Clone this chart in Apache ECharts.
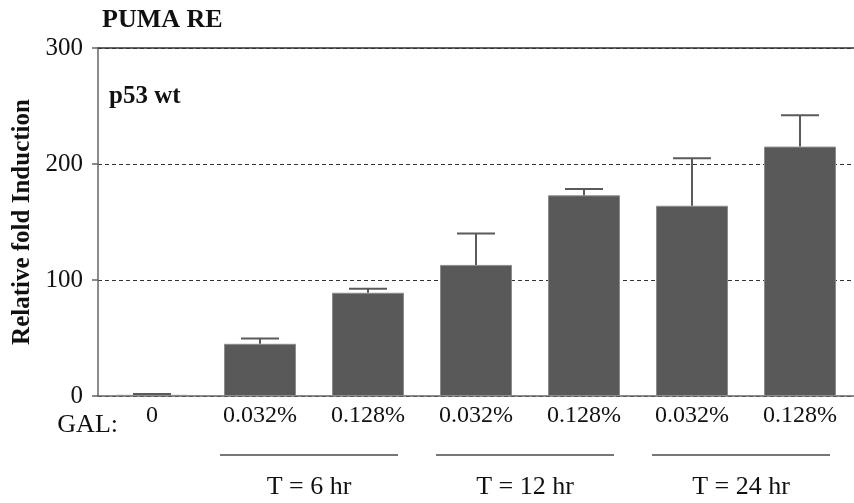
<!DOCTYPE html>
<html>
<head>
<meta charset="utf-8">
<script src="https://cdn.jsdelivr.net/npm/echarts@6/dist/echarts.min.js"></script>
<style>
html,body{margin:0;padding:0;background:#fff;}
#chart{width:854px;height:503px;}
</style>
</head>
<body>
<div id="chart"></div>
<script>
const categories = ['0', '0.032%', '0.128%', '0.032%', '0.128%', '0.032%', '0.128%'];
const values = [1, 45, 89, 113, 173, 164, 215];
const errors = [0.8, 4.5, 3.5, 27, 5.5, 41, 27];
const yTicks = [0, 100, 200, 300];
const groupLabels = ['T = 6 hr', 'T = 12 hr', 'T = 24 hr'];
const groupStart = [1, 3, 5];
const groupEnd = [2, 4, 6];

const FONT = '"Liberation Serif", "DejaVu Serif", serif';
const chart = echarts.init(document.getElementById('chart'));

const option = {
  animation: false,
  backgroundColor: '#fff',
  grid: { left: 98, top: 48, height: 348, width: 759, containLabel: false },
  title: {
    text: 'PUMA RE', left: 97, top: 2,
    textStyle: { fontFamily: FONT, fontWeight: 'bold', fontSize: 26, color: '#111' }
  },
  xAxis: [{
    type: 'category', data: categories, position: 'bottom',
    axisLine: { lineStyle: { color: '#666', width: 1.5 } },
    axisTick: { show: false },
    axisLabel: { fontFamily: FONT, fontSize: 24, color: '#111', margin: 8 }
  }, {
    type: 'category', data: categories, position: 'top',
    axisLine: { show: true, lineStyle: { color: '#333', width: 1.5 } },
    axisTick: { show: false }, axisLabel: { show: false }
  }],
  yAxis: {
    type: 'value', min: yTicks[0], max: yTicks[yTicks.length - 1], interval: 100,
    name: 'Relative fold Induction', nameLocation: 'middle', nameRotate: 90, nameGap: 58,
    nameTextStyle: { fontFamily: FONT, fontWeight: 'bold', fontSize: 25, color: '#111' },
    axisLine: { show: true, lineStyle: { color: '#666', width: 1.5 } },
    axisTick: { show: true, inside: false, length: 6, lineStyle: { color: '#666', width: 1.5 } },
    axisLabel: { fontFamily: FONT, fontSize: 25, color: '#111', margin: 15 },
    splitLine: { show: true, lineStyle: { type: [4, 3], color: '#333', width: 1 } }
  },
  series: [{
    type: 'bar', data: values, barWidth: 72,
    itemStyle: { color: '#595959', borderColor: '#8c8c8c', borderWidth: 1 },
    z: 2
  }, {
    type: 'custom', z: 3,
    data: values.map((v, i) => [i, v, errors[i]]),
    renderItem: function (params, api) {
      const i = api.value(0), v = api.value(1), e = api.value(2);
      const p0 = api.coord([i, v]);
      const p1 = api.coord([i, v + e]);
      const hw = 19;
      const style = { stroke: '#5a5a5a', lineWidth: 2 };
      return {
        type: 'group',
        children: [
          { type: 'line', shape: { x1: p0[0], y1: p0[1], x2: p1[0], y2: p1[1] }, style },
          { type: 'line', shape: { x1: p1[0] - hw, y1: p1[1], x2: p1[0] + hw, y2: p1[1] }, style }
        ]
      };
    }
  }]
};
chart.setOption(option);

const graphics = [];
const y0 = chart.convertToPixel({ yAxisIndex: 0 }, 0);
const y300 = chart.convertToPixel({ yAxisIndex: 0 }, 300);
const xFirst = chart.convertToPixel({ xAxisIndex: 0 }, 0);
graphics.push({
  type: 'text', x: 109, y: y300 + 49,
  style: { text: 'p53 wt', fontFamily: FONT, fontWeight: 'bold', fontSize: 25, fill: '#111', verticalAlign: 'middle' }
});
graphics.push({
  type: 'text', x: xFirst - 34, y: y0 + 29,
  style: { text: 'GAL:', fontFamily: FONT, fontSize: 26, fill: '#111', align: 'right', verticalAlign: 'middle' }
});
for (let g = 0; g < groupLabels.length; g++) {
  const xs = chart.convertToPixel({ xAxisIndex: 0 }, groupStart[g]) - 40;
  const xe = chart.convertToPixel({ xAxisIndex: 0 }, groupEnd[g]) + 30;
  graphics.push({
    type: 'line', shape: { x1: xs, y1: y0 + 59, x2: xe, y2: y0 + 59 },
    style: { stroke: '#777', lineWidth: 2 }
  });
  graphics.push({
    type: 'text', x: (xs + xe) / 2, y: y0 + 91,
    style: { text: groupLabels[g], fontFamily: FONT, fontSize: 26, fill: '#111', align: 'center', verticalAlign: 'middle' }
  });
}
chart.setOption({ graphic: graphics });
</script>
</body>
</html>
